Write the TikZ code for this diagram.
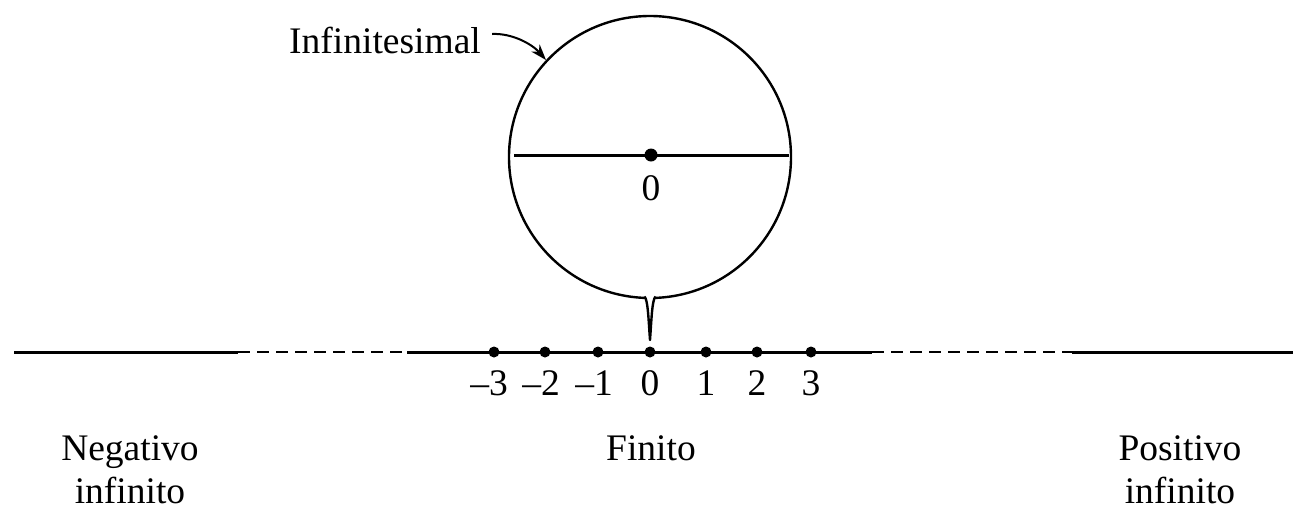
\documentclass[tikz,border=0pt]{standalone}
\usepackage{fontspec}
\setmainfont{Liberation Serif}
\usetikzlibrary{arrows.meta}
\begin{document}
\begin{tikzpicture}[x=1pt,y=-1pt,
  ln/.style={line width=3pt},
  dot/.style={circle,fill=black,inner sep=0pt,minimum size=11pt},
  bigdot/.style={circle,fill=black,inner sep=0pt,minimum size=13pt},
  lab/.style={font=\fontsize{37.5}{43}\selectfont,inner sep=0pt},
  dsh/.style={line width=2.6pt,dash pattern=on 12pt off 7pt}]
\useasboundingbox (0,0) rectangle (1298,520);
% circle
\node[circle,draw,line width=2.4pt,minimum size=282pt,inner sep=0pt] (C) at (650,157) {};
\fill[white] (645,290) rectangle (655,302);
\coordinate (sl) at (644.5,296.5);
\coordinate (sr) at (655.5,296.5);
\coordinate (tip) at (650,340);
\draw[line width=2.4pt,line join=round] (sl) .. controls (648,300) and (648.5,320) .. (tip) .. controls (651.5,320) and (652,300) .. (sr);
% inner line
\coordinate (il) at (514,155);
\coordinate (ir) at (789,155);
\draw[ln] (il) -- (ir);
\node[bigdot] (z) at (651,155) {};
\node[lab] (zl) at (651,188) {0};
% axis
\coordinate (a0) at (14,352);
\coordinate (a1) at (238,352);
\coordinate (a2) at (407,352);
\coordinate (a3) at (872,352);
\coordinate (a4) at (1072,352);
\coordinate (a5) at (1293,352);
\draw[ln] (a0) -- (a1);
\draw[dsh] (a1) -- (a2);
\draw[ln] (a2) -- (a3);
\draw[dsh] (a3) -- (a4);
\draw[ln] (a4) -- (a5);
\foreach \x/\n/\t in {489/m3/–3,541/m2/–2,594/m1/–1,650/p0/0,706/p1/1,757/p2/2,811/p3/3}{
  \node[lab] (l\n) at (\x,383) {\t};
}
\foreach \x/\n in {494/m3,545/m2,598/m1,650/p0,706/p1,757/p2,811/p3}{
  \node[dot] (\n) at (\x,352) {};
}
% labels
\node[lab,align=center] (neg) at (130,470) {Negativo\\infinito};
\node[lab] (fin) at (651,448) {Finito};
\node[lab,align=center] (pos) at (1180,470) {Positivo\\infinito};
\node[lab,anchor=west] (inf) at (289,40) {Infinitesimal};
\draw[line width=2pt,-{Stealth[length=16pt,width=11pt]}] (inf.east) ++(11,-6) .. controls (512,33) and (532,44) .. (C.137);
\end{tikzpicture}
\end{document}
